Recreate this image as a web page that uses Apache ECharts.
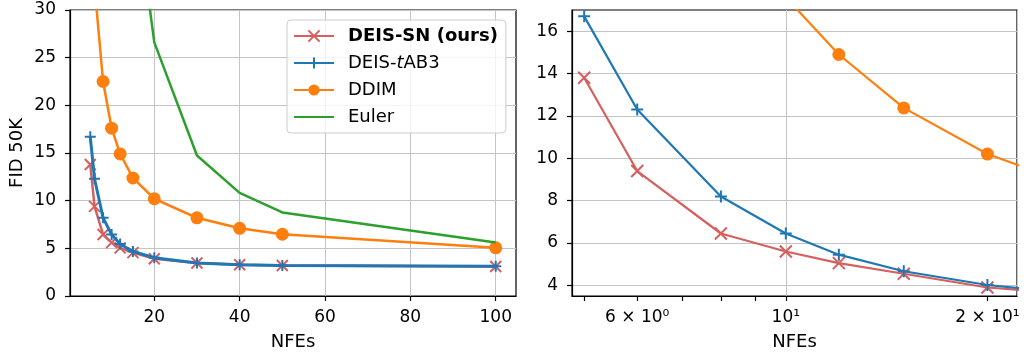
<!DOCTYPE html>
<html><head><meta charset="utf-8">
<script src="https://cdn.jsdelivr.net/npm/echarts@6/dist/echarts.min.js"></script>
<style>html,body{margin:0;padding:0;background:#fff}#c{width:1024px;height:356px}</style>
</head><body><div id="c"></div>
<script>
// ---- data ----
const nfe = [5, 6, 8, 10, 12, 15, 20, 30, 40, 50, 100];
const fidDeisSN   = [13.8, 9.4, 6.45, 5.6, 5.05, 4.55, 3.9, 3.47, 3.27, 3.2, 3.1];
const fidDeisTAB3 = [16.7, 12.3, 8.2, 6.45, 5.45, 4.67, 4.02, 3.45, 3.28, 3.2, 3.12];
const fidDDIM     = [44.0, 32.5, 22.5, 17.6, 14.9, 12.38, 10.2, 8.2, 7.1, 6.48, 5.05];
const nfeEuler = [10, 15, 20, 30, 40, 50, 100];
const fidEuler = [78.0, 43.6, 26.6, 14.74, 10.82, 8.77, 5.62];
const leftXTicks = [20, 40, 60, 80, 100];
const rightXTicks = [5, 6, 7, 8, 9, 10, 20];
const rightXLabelVals = [6, 10, 20];
const rightXLabelText = ['6 × 10⁰', '10¹', '2 × 10¹'];
const rightYTicks = [4, 6, 8, 10, 12, 14, 16];
const names = ['DEIS-SN (ours)', 'DEIS-tAB3', 'DDIM', 'Euler'];

// ---- style ----
const FONT = 'DejaVu Sans';
const RED = '#d65f5f', BLUE = '#1f77b4', ORANGE = '#ff7f0e', GREEN = '#2ca02c';
const X_PATH = 'path://M0,0L1,1M1,0L0,1';
const PLUS_PATH = 'path://M0.5,0L0.5,1M0,0.5L1,0.5';
const zip = (xs, ys) => xs.map((x, i) => [x, ys[i]]);
const txt = {fontFamily: FONT, fontSize: 17, color: '#000'};
const nameTxt = {fontFamily: FONT, fontSize: 18, color: '#000'};
const gridLine = {show: true, lineStyle: {color: '#c4c4c4', width: 1}};
const axLine = {show: true, onZero: false, lineStyle: {color: '#000', width: 1.2}};

function mk(name, xs, ys, xi, color, sym, size, lw, bw, z) {
  return {
    type: 'line', name, xAxisIndex: xi, yAxisIndex: xi, data: zip(xs, ys),
    symbol: sym, symbolSize: size, showSymbol: sym !== 'none', clip: true, z,
    lineStyle: {color, width: lw},
    itemStyle: {color, borderColor: color, borderWidth: bw},
    emphasis: {disabled: true}, silent: true, animation: false
  };
}

const chart = echarts.init(document.getElementById('c'));
chart.setOption({
  animation: false,
  grid: [
    {left: 70, right: 508, top: 10, bottom: 58, show: true, borderColor: '#000', borderWidth: 1.2, backgroundColor: 'transparent'},
    {left: 572, right: 7, top: 10, bottom: 58, show: true, borderColor: '#000', borderWidth: 1.2, backgroundColor: 'transparent'}
  ],
  legend: {
    left: 287, top: 20, orient: 'vertical',
    data: [names[0], names[1], names[2], {name: names[3], itemStyle: {opacity: 0}}],
    itemWidth: 40, itemHeight: 14, itemGap: 9,
    padding: [7, 8, 7, 6],
    backgroundColor: 'rgba(255,255,255,0.8)', borderColor: '#cccccc', borderWidth: 1, borderRadius: 4,
    textStyle: Object.assign({}, nameTxt, {padding: [0, 0, 0, 9], rich: {
      b: {fontFamily: FONT, fontSize: 18, fontWeight: 'bold', color: '#000'},
      i: {fontFamily: FONT, fontSize: 18, fontStyle: 'italic', color: '#000'},
      n: {fontFamily: FONT, fontSize: 18, color: '#000'}
    }}),
    formatter: n => n === names[0] ? '{b|' + n + '}' : (n === names[1] ? '{n|DEIS-}{i|t}{n|AB3}' : n)
  },
  xAxis: [
    {gridIndex: 0, type: 'value', min: 0.25, max: 104.75,
     axisLine: axLine,
     axisTick: {show: true, customValues: leftXTicks, length: 5, lineStyle: {color: '#000', width: 1.2}},
     axisLabel: Object.assign({customValues: leftXTicks, margin: 13}, txt),
     splitLine: gridLine,
     name: 'NFEs', nameLocation: 'middle', nameGap: 37, nameTextStyle: nameTxt},
    {gridIndex: 1, type: 'log', logBase: 10, min: 4.795, max: 22.14,
     axisLine: axLine,
     axisTick: {show: true, customValues: rightXTicks, length: 5, lineStyle: {color: '#000', width: 1.2}},
     axisLabel: Object.assign({customValues: rightXLabelVals, margin: 13,
       formatter: v => { const k = rightXLabelVals.findIndex(t => Math.abs(t - v) < 1e-6); return k >= 0 ? rightXLabelText[k] : ''; }}, txt),
     splitLine: {show: false},
     name: 'NFEs', nameLocation: 'middle', nameGap: 37, nameTextStyle: nameTxt},
    {gridIndex: 1, type: 'log', logBase: 10, min: 4.795, max: 22.14, position: 'top',
     axisLine: {show: false}, axisTick: {show: false}, axisLabel: {show: false},
     splitLine: gridLine}
  ],
  yAxis: [
    {gridIndex: 0, type: 'value', min: 0, max: 30, interval: 5,
     axisLine: axLine,
     axisTick: {show: true, length: 5, lineStyle: {color: '#000', width: 1.2}},
     axisLabel: Object.assign({margin: 14}, txt),
     splitLine: gridLine,
     name: 'FID 50K', nameLocation: 'middle', nameGap: 44, nameTextStyle: nameTxt},
    {gridIndex: 1, type: 'value', min: 3.5, max: 17,
     axisLine: axLine,
     axisTick: {show: true, customValues: rightYTicks, length: 5, lineStyle: {color: '#000', width: 1.2}},
     axisLabel: Object.assign({customValues: rightYTicks, margin: 14}, txt),
     splitLine: gridLine}
  ],
  series: [
    mk(names[0], nfe, fidDeisSN, 0, RED, X_PATH, 11, 2.5, 2, 2),
    mk(names[1], nfe, fidDeisTAB3, 0, BLUE, PLUS_PATH, 11, 3, 2, 3),
    mk(names[2], nfe, fidDDIM, 0, ORANGE, 'circle', 13, 2.5, 0, 4),
    mk(names[3], nfeEuler, fidEuler, 0, GREEN, 'none', 0, 2.5, 0, 5),
    mk(names[0], nfe, fidDeisSN, 1, RED, X_PATH, 12, 2.2, 2, 2),
    mk(names[1], nfe, fidDeisTAB3, 1, BLUE, PLUS_PATH, 12, 2.2, 2, 3),
    mk(names[2], nfe, fidDDIM, 1, ORANGE, 'circle', 13, 2.2, 0, 4)
  ]
});
</script></body></html>
